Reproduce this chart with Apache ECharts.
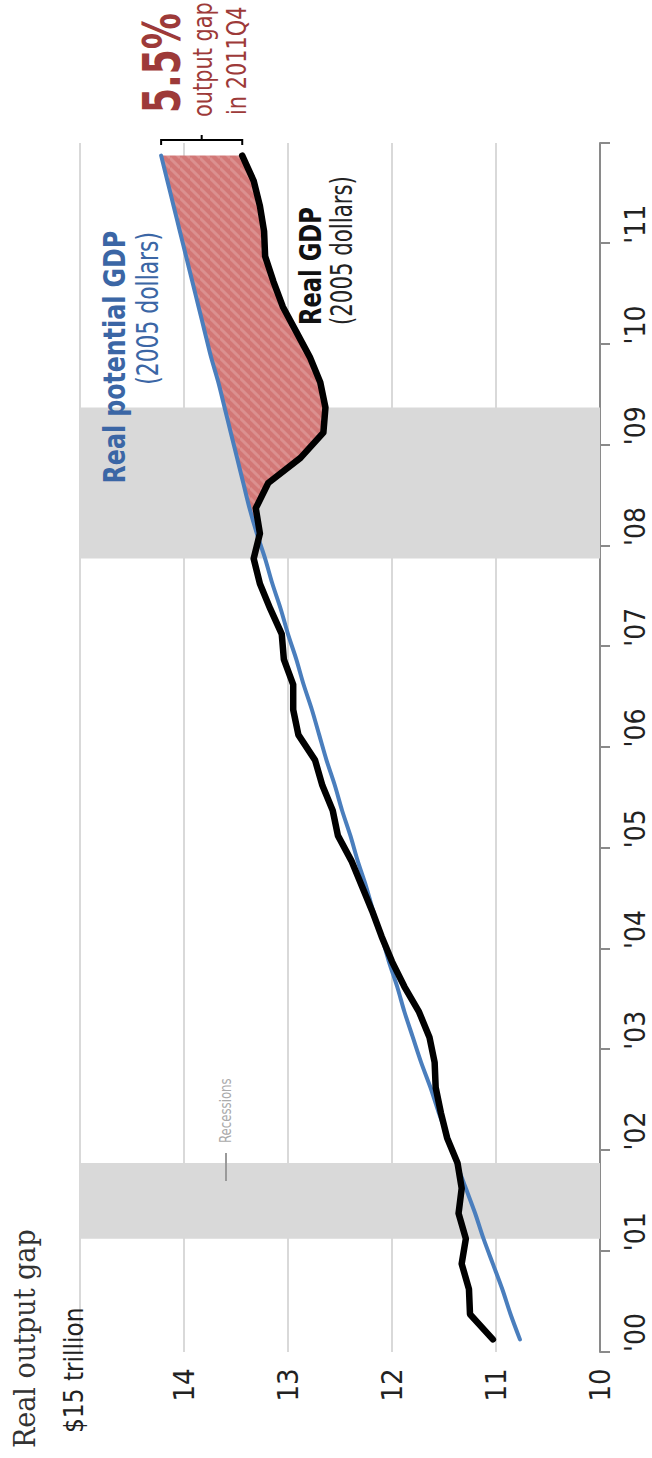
<!DOCTYPE html>
<html>
<head>
<meta charset="utf-8">
<script src="https://cdn.jsdelivr.net/npm/echarts@6/dist/echarts.min.js"></script>
<style>
html, body { margin: 0; padding: 0; background: #fff; width: 652px; height: 1458px; overflow: hidden; }
/* the chart is laid out landscape and turned a quarter turn */
#main { position: absolute; left: 0; top: 0; width: 1458px; height: 652px; transform-origin: 0 0; transform: translateY(1458px) rotate(-90deg); }
</style>
</head>
<body>
<div id="main"></div>
<script>
var years = [2000, 2001, 2002, 2003, 2004, 2005, 2006, 2007, 2008, 2009, 2010, 2011];

// trillions of 2005 dollars, 2000Q1 .. 2011Q4
var realGdp = [
  11.03, 11.25, 11.26, 11.33,
  11.29, 11.36, 11.33, 11.37,
  11.47, 11.53, 11.58, 11.59,
  11.64, 11.74, 11.88, 12.00,
  12.10, 12.19, 12.29, 12.39,
  12.52, 12.57, 12.67, 12.74,
  12.90, 12.95, 12.95, 13.04,
  13.06, 13.17, 13.27, 13.33,
  13.27, 13.31, 13.19, 12.88,
  12.66, 12.64, 12.69, 12.79,
  12.92, 13.05, 13.14, 13.22,
  13.23, 13.27, 13.33, 13.44
];
var potentialGdp = [
  10.77, 10.86, 10.94, 11.03,
  11.12, 11.20, 11.29, 11.38,
  11.46, 11.55, 11.63, 11.72,
  11.80, 11.88, 11.95, 12.03,
  12.10, 12.18, 12.25, 12.33,
  12.40, 12.48, 12.55, 12.63,
  12.70, 12.77, 12.85, 12.92,
  13.00, 13.07, 13.15, 13.22,
  13.30, 13.37, 13.43, 13.49,
  13.55, 13.61, 13.67, 13.74,
  13.80, 13.86, 13.92, 13.98,
  14.04, 14.10, 14.16, 14.22
];
var recessions = [['2001Q1', '2001Q4'], ['2007Q4', '2009Q2']];
var gapFrom = '2008Q1';
var yTicks = [10, 11, 12, 13, 14, 15];

var quarters = [];
years.forEach(function (y) {
  for (var q = 1; q <= 4; q++) quarters.push(y + 'Q' + q);
});
// quarter label -> position on the year axis (middle of the quarter)
function qx(label) {
  return +label.slice(0, 4) + (+label.slice(5) - 0.5) / 4;
}
var xMin = years[0], xMax = years[years.length - 1] + 1;

var realData = quarters.map(function (q, i) { return [qx(q), realGdp[i]]; });
var potData = quarters.map(function (q, i) { return [qx(q), potentialGdp[i]]; });
var g0 = quarters.indexOf(gapFrom);
var gapData = [];
for (var i = g0; i < quarters.length; i++) {
  gapData.push([qx(quarters[i]), potentialGdp[i], realGdp[i]]);
}
var last = quarters.length - 1;

// striped fill for the output gap
function hatch(size, base, stripe) {
  var c = document.createElement('canvas');
  c.width = c.height = size;
  var ctx = c.getContext('2d');
  ctx.fillStyle = base;
  ctx.fillRect(0, 0, size, size);
  ctx.strokeStyle = stripe;
  ctx.lineWidth = 3;
  for (var k = -1; k <= 1; k++) {
    ctx.beginPath();
    ctx.moveTo(k * size, size);
    ctx.lineTo(k * size + size, 0);
    ctx.stroke();
  }
  return { image: c.toDataURL(), repeat: 'repeat', imageWidth: size, imageHeight: size };
}
var gapFill = hatch(10, '#d27776', '#db908f');

var cond = '"DejaVu Sans Condensed", "DejaVu Sans", sans-serif';
var red = '#9d3a39';
var blue = '#3b66a5';

function label(text, x, y, font, color, align, sx) {
  return {
    type: 'text', x: x, y: y, z: 100, scaleX: sx || 1,
    style: { text: text, font: font, fill: color, textAlign: align || 'left', textVerticalAlign: 'middle' }
  };
}

var myChart = echarts.init(document.getElementById('main'), null, { renderer: 'svg' });

myChart.setOption({
  animation: false,
  grid: { left: 106, right: 143, top: 80, bottom: 52, outerBoundsMode: 'none' },
  xAxis: {
    type: 'value',
    min: xMin,
    max: xMax,
    interval: 1,
    axisLine: { show: true, lineStyle: { color: '#8a8a8a', width: 2 } },
    axisTick: { show: true, length: 10, lineStyle: { color: '#8a8a8a', width: 2 } },
    splitLine: { show: false },
    axisLabel: {
      margin: 21,
      align: 'left',
      color: '#222',
      fontSize: 28,
      fontFamily: cond,
      formatter: function (v) { return v < xMax ? "'" + String(v).slice(2) : ''; }
    }
  },
  yAxis: {
    type: 'value',
    min: yTicks[0],
    max: yTicks[yTicks.length - 1],
    interval: 1,
    axisLine: { show: false },
    axisTick: { show: false },
    splitLine: { lineStyle: { color: '#d9d9d9', width: 2 } },
    axisLabel: {
      margin: 33,
      align: 'center',
      color: '#222',
      fontSize: 29,
      fontFamily: cond,
      formatter: function (v) { return v === yTicks[yTicks.length - 1] ? '' : String(v); }
    }
  },
  series: [
    {
      name: 'recessions',
      type: 'line',
      data: [],
      silent: true,
      z: 1,
      markArea: {
        silent: true,
        itemStyle: { color: '#d9d9d9' },
        data: recessions.map(function (r) { return [{ xAxis: qx(r[0]) }, { xAxis: qx(r[1]) }]; })
      }
    },
    {
      name: 'gap',
      type: 'custom',
      silent: true,
      z: 2,
      data: gapData,
      renderItem: function (params, api) {
        if (params.dataIndex !== 0) return null;
        var pts = [];
        gapData.forEach(function (d) { pts.push(api.coord([d[0], d[1]])); });
        for (var j = gapData.length - 1; j >= 0; j--) pts.push(api.coord([gapData[j][0], gapData[j][2]]));
        return { type: 'polygon', shape: { points: pts }, style: { fill: gapFill, stroke: null } };
      }
    },
    {
      name: 'Real potential GDP',
      type: 'line',
      data: potData,
      symbol: 'none',
      smooth: 0.3,
      z: 3,
      lineStyle: { color: '#4a7ebd', width: 4, cap: 'round' }
    },
    {
      name: 'Real GDP',
      type: 'line',
      data: realData,
      symbol: 'none',
      z: 4,
      lineStyle: { color: '#000', width: 6.5, cap: 'round', join: 'round' }
    },
    {
      name: 'bracket',
      type: 'custom',
      silent: true,
      z: 5,
      data: [[qx(quarters[last]), potentialGdp[last], realGdp[last]]],
      renderItem: function (params, api) {
        var a = api.coord([xMax, api.value(1)]);
        var b = api.coord([xMax, api.value(2)]);
        var x = a[0] + 3;
        var mid = (a[1] + b[1]) / 2;
        return {
          type: 'group',
          children: [
            { type: 'polyline', shape: { points: [[x - 5, a[1]], [x, a[1]], [x, b[1]], [x - 5, b[1]]] },
              style: { stroke: '#000', lineWidth: 2, fill: null } },
            { type: 'line', shape: { x1: x, y1: mid, x2: x + 5, y2: mid },
              style: { stroke: '#000', lineWidth: 2 } }
          ]
        };
      }
    }
  ],
  graphic: [
    label('Real output gap', 10, 25, '30px "DejaVu Serif", serif', '#333', 'left', 0.9),
    label('$15 trillion', 25, 73, '27px ' + cond, '#222', 'left', 0.96),
    { type: 'line', z: 100, shape: { x1: 277, y1: 226, x2: 305, y2: 226 }, style: { stroke: '#9a9a9a', lineWidth: 2 } },
    label('Recessions', 315, 226, '15px ' + cond, '#aaa', 'left', 0.87),
    label('5.5%', 1345, 162, 'bold 52px ' + cond, red, 'left', 0.77),
    label('output gap', 1341, 203, '27px ' + cond, red, 'left', 0.86),
    label('in 2011Q4', 1343, 237, '27px ' + cond, red, 'left', 0.86),
    label('Real potential GDP', 1227, 114, 'bold 31px ' + cond, blue, 'right', 0.85),
    label('(2005 dollars)', 1226, 148, '30px ' + cond, blue, 'right', 0.81),
    label('Real GDP', 1133, 311, 'bold 30px ' + cond, '#111', 'left', 0.84),
    label('(2005 dollars)', 1133, 341, '30px ' + cond, '#222', 'left', 0.79)
  ]
});
</script>
</body>
</html>
